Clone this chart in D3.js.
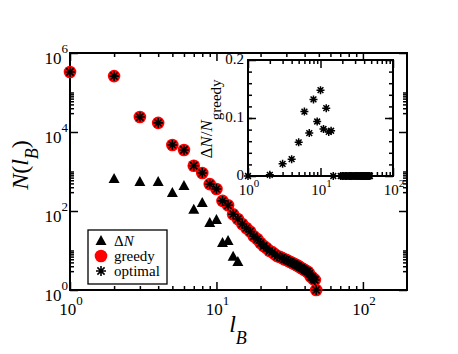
<!DOCTYPE html>
<html lang="en">
<head>
  <meta charset="UTF-8" />
  <title>N(lB) box covering</title>
  <script src="https://d3js.org/d3.v7.min.js"></script>
  <style>
    body {
      margin: 0;
      background: #fff;
    }

    svg, svg text {
      display: block;
      font-family: "Liberation Serif", "DejaVu Serif", serif;
    }

    .tick line {
      stroke: #000;
      stroke-width: 1.5;
    }
  </style>
</head>
<body>

<svg id="chart" width="458" height="354" font-family="Liberation Serif, serif"></svg>

<script>
/* ---------------- DATA ---------------- */

const lB = [1, 2, 3, 4, 5, 6, 7, 8, 9, 10, 11, 12, 13, 14, 15, 16, 17, 18, 19, 20,
  21, 22, 23, 24, 25, 26, 27, 28, 29, 30, 31, 32, 33, 34, 35, 36, 37, 38, 39, 40,
  41, 42, 43, 44, 45, 46, 47, 48];

const greedy = [330000, 260000, 24000, 17000, 4700, 3500, 1400, 920, 480, 360,
  180, 140, 83, 63, 47, 37, 30, 23, 19.5, 15.5,
  13, 11.5, 9.8, 9.1, 8.1, 7.2, 6.9, 6.5, 6.0, 5.8,
  5.4, 5.1, 4.8, 4.6, 4.3, 4.1, 3.8, 3.6, 3.4, 3.2,
  3.0, 2.9, 2.6, 2.2, 2.1, 1.9, 1.8, 1.0];

const optimal = [330000, 260000, 24000, 17000, 4700, 3500, 1400, 920, 480, 360,
  180, 140, 83, 63, 47, 37, 30, 23, 19.5, 15.5,
  13, 11.5, 9.8, 9.1, 8.1, 7.2, 6.9, 6.5, 6.0, 5.8,
  5.4, 5.1, 4.8, 4.6, 4.3, 4.1, 3.8, 3.6, 3.4, 3.2,
  3.0, 2.9, 2.6, 2.2, 2.1, 1.9, 1.8, 1.0];

const deltaL = [2, 3, 4, 5, 6, 7, 8, 9, 10, 11, 12, 13, 14];
const deltaN = [650, 540, 540, 285, 430, 107, 160, 50, 59, 15.5, 17.5, 6.9, 5.1];

const insetL = [1, 2, 3, 4, 5, 6, 7, 8, 9, 10, 11, 12, 13, 14, 15,
  19, 20, 21, 22, 23, 24, 25, 26, 27, 28, 29, 30, 31, 32, 33, 34, 35, 36, 37, 38,
  39, 40, 41, 42, 43, 44, 45, 46, 47, 48];
const insetRatio = [0, 0.002, 0.021, 0.029, 0.058, 0.111, 0.074, 0.132, 0.094, 0.148,
  0.081, 0.117, 0.076, 0.078, 0,
  0, 0, 0, 0, 0, 0, 0, 0, 0, 0, 0, 0, 0, 0, 0, 0, 0, 0, 0, 0,
  0, 0, 0, 0, 0, 0, 0, 0, 0, 0];

const mainXTicks = [1, 10, 100];
const mainYTicks = [1, 1e2, 1e4, 1e6];
const insetXTicks = [1, 10, 100];
const insetYTicks = [0, 0.1, 0.2];
const insetYLabels = ["0", "0.1", "0.2"];
const legendLabels = ["\u0394N", "greedy", "optimal"];

/* ---------------- SETUP ---------------- */

const svg = d3.select("#chart");

const main = { left: 70, right: 407, top: 53, bottom: 290 };
const ins = { left: 248, right: 393, top: 60, bottom: 176 };

const x = d3.scaleLog().domain([1, 200]).range([main.left, main.right]);
const y = d3.scaleLog().domain([1, 1e6]).range([main.bottom, main.top]);

const xi = d3.scaleLog().domain([1, 100]).range([ins.left, ins.right]);
const yi = d3.scaleLinear().domain([0, 0.2]).range([ins.bottom, ins.top]);

// minor ticks
const xMinor = [];
[1, 10].forEach(d => { for (let k = 2; k <= 9; k++) xMinor.push(d * k); });
const yMinor = [];
[1, 1e2, 1e4].forEach(d => { for (let k = 3; k <= 10; k++) yMinor.push(d * k); });
const yiMinor = d3.range(0.02, 0.2, 0.02);

function star(r) {
  const a = r * 0.72;
  return `M${-r},0L${r},0M0,${-r}L0,${r}M${-a},${-a}L${a},${a}M${-a},${a}L${a},${-a}`;
}
const triangle = "M0,-6L5.5,4L-5.5,4Z";

function drawFrame(box, sx, sy, xMaj, xMin, yMaj, yMin) {
  const g = svg.append("g");
  const noDomain = s => s.select(".domain").remove();
  const axes = [
    [d3.axisBottom(sx), `translate(0,${box.bottom})`, xMaj, xMin],
    [d3.axisTop(sx), `translate(0,${box.top})`, xMaj, xMin],
    [d3.axisLeft(sy), `translate(${box.left},0)`, yMaj, yMin],
    [d3.axisRight(sy), `translate(${box.right},0)`, yMaj, yMin]
  ];
  axes.forEach(([ax, tr, maj, min]) => {
    g.append("g").attr("transform", tr)
      .call(ax.tickValues(maj).tickSize(-8).tickSizeOuter(0).tickFormat(""))
      .call(noDomain);
    g.append("g").attr("transform", tr)
      .call(ax.tickValues(min).tickSize(-4).tickSizeOuter(0).tickFormat(""))
      .call(noDomain);
  });
  g.append("rect")
    .attr("x", box.left).attr("y", box.top)
    .attr("width", box.right - box.left).attr("height", box.bottom - box.top)
    .attr("fill", "none").attr("stroke", "#000").attr("stroke-width", 2);
}

function powLabel(sel, exp, size, expSize, raise) {
  sel.append("tspan").attr("font-size", size).text("10");
  sel.append("tspan").attr("font-size", expSize).attr("dy", -raise).text(exp);
}

/* ---------------- MAIN PLOT ---------------- */

drawFrame(main, x, y, mainXTicks, xMinor, mainYTicks, yMinor);

mainXTicks.forEach(v => {
  const t = svg.append("text").attr("x", x(v) + 1).attr("y", 315).attr("text-anchor", "middle");
  powLabel(t, Math.round(Math.log10(v)), 17, 13, 10);
});

mainYTicks.forEach(v => {
  const t = svg.append("text").attr("x", 68).attr("y", y(v) + 11).attr("text-anchor", "end");
  powLabel(t, Math.round(Math.log10(v)), 17, 13, 11);
});

svg.append("g").selectAll("circle")
  .data(lB)
  .join("circle")
  .attr("cx", d => x(d))
  .attr("cy", (d, i) => y(greedy[i]))
  .attr("r", 6.3)
  .attr("fill", "#ff0000");

svg.append("g").selectAll("path")
  .data(lB)
  .join("path")
  .attr("transform", (d, i) => `translate(${x(d)},${y(optimal[i])})`)
  .attr("d", star(5))
  .attr("stroke", "#000")
  .attr("stroke-width", 1.6);

svg.append("g").selectAll("path")
  .data(deltaL)
  .join("path")
  .attr("transform", (d, i) => `translate(${x(d)},${y(deltaN[i])})`)
  .attr("d", triangle)
  .attr("fill", "#000");

// axis titles
const yTitle = svg.append("text")
  .attr("transform", "translate(28,165) rotate(-90)")
  .attr("text-anchor", "middle")
  .attr("font-size", 24);
yTitle.append("tspan").attr("font-style", "italic").text("N");
yTitle.append("tspan").text("(");
yTitle.append("tspan").attr("font-style", "italic").text("l");
yTitle.append("tspan").attr("font-style", "italic").attr("font-size", 18).attr("dy", 10).text("B");
yTitle.append("tspan").attr("dy", -10).text(")");

const xTitle = svg.append("text")
  .attr("x", 238).attr("y", 332)
  .attr("text-anchor", "middle")
  .attr("font-size", 24)
  .attr("font-style", "italic");
xTitle.append("tspan").text("l");
xTitle.append("tspan").attr("font-size", 18).attr("dy", 12).text("B");

/* ---------------- LEGEND ---------------- */

const legend = svg.append("g");
legend.append("rect")
  .attr("x", 88).attr("y", 230).attr("width", 79).attr("height", 54)
  .attr("fill", "#fff").attr("stroke", "#000").attr("stroke-width", 1.3);

legend.append("path").attr("transform", "translate(101,241)").attr("d", triangle).attr("fill", "#000");
legend.append("circle").attr("cx", 101).attr("cy", 256).attr("r", 6.3).attr("fill", "#ff0000");
legend.append("path").attr("transform", "translate(101,271)").attr("d", star(5))
  .attr("stroke", "#000").attr("stroke-width", 1.6);

legendLabels.forEach((s, i) => {
  const t = legend.append("text").attr("x", 114).attr("y", 246 + i * 15).attr("font-size", 15);
  if (i === 0) {
    t.append("tspan").text("\u0394");
    t.append("tspan").attr("font-style", "italic").text("N");
  } else {
    t.text(s);
  }
});

/* ---------------- INSET ---------------- */

svg.append("rect")
  .attr("x", ins.left).attr("y", ins.top)
  .attr("width", ins.right - ins.left).attr("height", ins.bottom - ins.top)
  .attr("fill", "#fff");

drawFrame(ins, xi, yi, insetXTicks, xMinor, insetYTicks, yiMinor);

insetXTicks.forEach(v => {
  const t = svg.append("text").attr("x", xi(v) + 1).attr("y", 195).attr("text-anchor", "middle");
  powLabel(t, Math.round(Math.log10(v)), 15, 11, 8);
});

insetYTicks.forEach((v, i) => {
  svg.append("text")
    .attr("x", 244).attr("y", yi(v) + 4)
    .attr("text-anchor", "end").attr("font-size", 15)
    .text(insetYLabels[i]);
});

svg.append("g").selectAll("path")
  .data(insetL)
  .join("path")
  .attr("transform", (d, i) => `translate(${xi(d)},${yi(insetRatio[i])})`)
  .attr("d", star(4))
  .attr("stroke", "#000")
  .attr("stroke-width", 1.5);

const iTitle = svg.append("text")
  .attr("transform", "translate(212,119) rotate(-90)")
  .attr("text-anchor", "middle")
  .attr("font-size", 17);
iTitle.append("tspan").text("\u0394");
iTitle.append("tspan").attr("font-style", "italic").text("N");
iTitle.append("tspan").text("/");
iTitle.append("tspan").attr("font-style", "italic").text("N");
iTitle.append("tspan").attr("font-size", 15).attr("dy", 9).text("greedy");
</script>

</body>
</html>
